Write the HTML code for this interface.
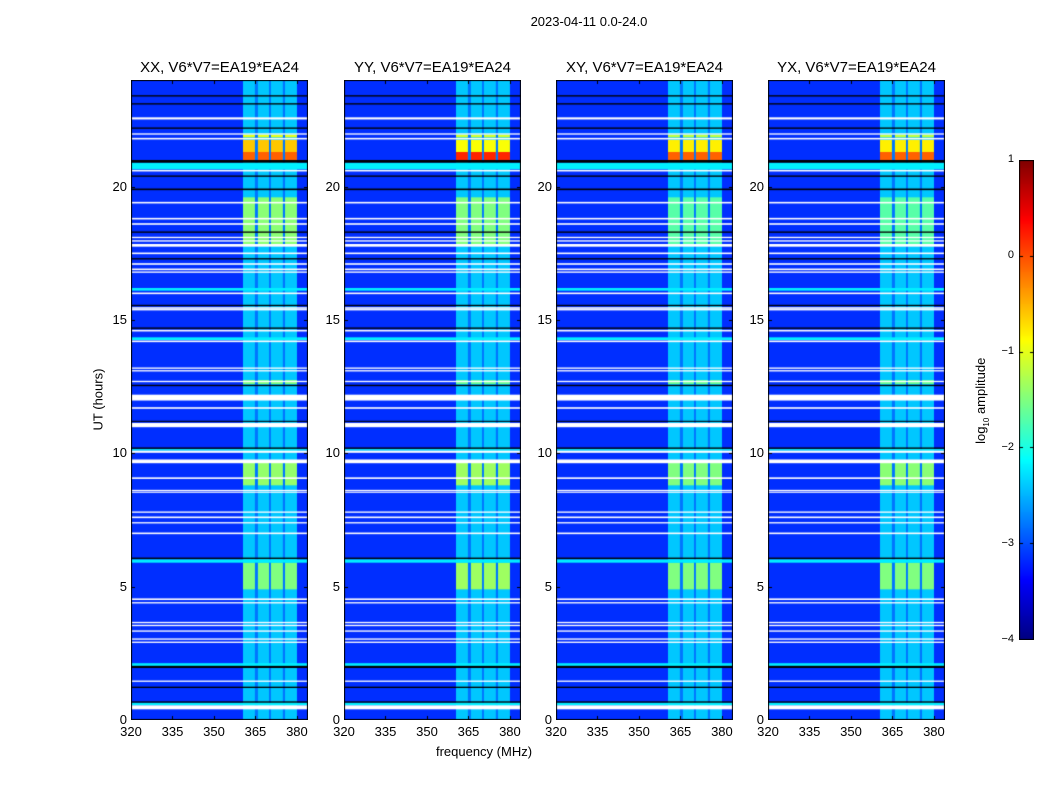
<!DOCTYPE html>
<html><head><meta charset="utf-8">
<style>
body{margin:0;background:#fff;font-family:"Liberation Sans",sans-serif;}
#root{position:relative;width:1050px;height:800px;overflow:hidden;background:#fff;}
.t{position:absolute;color:#000;white-space:nowrap;}
canvas{position:absolute;}
</style></head>
<body>
<div id="root">
<div class="t" style="left:489px;top:14px;width:200px;text-align:center;font-size:13px;">2023-04-11 0.0-24.0</div>
<div class="t" style="left:384px;top:744px;width:200px;text-align:center;font-size:13px;">frequency (MHz)</div>
<div class="t" style="left:48px;top:392px;width:100px;text-align:center;font-size:13px;transform:rotate(-90deg);">UT (hours)</div>
<div class="t" style="left:922px;top:392px;width:120px;text-align:center;font-size:13px;transform:rotate(-90deg);">log<sub style="font-size:8px">10</sub> amplitude</div>
</div>
<script>
// ---- data ----
const panelNames = ["XX","YY","XY","YX"];
const panelLeft = [131,344,556,768];
const freqTicks = [320,335,350,365,380];
const timeTicks = [0,5,10,15,20];
const cbTicks = [1,0,-1,-2,-3,-4];
const bandCols = [[360.5,364.8],[365.9,369.9],[370.6,374.9],[375.7,380.0]];
const bandLevelDefault = -2.4;
const bgLevel = -3.15;
const gapLevel = -2.8;
const whiteGaps = [[22.52,22.6],[21.95,22.0],[21.77,21.83],[20.57,20.63],[19.37,19.43],[18.77,18.83],[18.57,18.63],[18.07,18.12],[17.94,17.99],[17.75,17.85],[17.47,17.53],[17.07,17.13],[16.87,16.93],[16.77,16.82],[15.97,16.03],[15.42,15.48],[15.36,15.41],[14.57,14.63],[14.17,14.23],[13.17,13.22],[13.07,13.12],[12.67,12.72],[11.98,12.2],[11.67,11.73],[10.98,11.14],[10.02,10.1],[9.63,9.77],[9.04,9.1],[8.58,8.63],[8.52,8.56],[7.77,7.82],[7.57,7.63],[7.37,7.42],[6.97,7.03],[4.5,4.56],[4.37,4.42],[3.63,3.68],[3.52,3.57],[3.31,3.36],[3.01,3.06],[2.89,2.94],[1.43,1.48],[0.4,0.55]];
const blackLines = [[23.38,23.43],[23.08,23.13],[22.17,22.22],[20.9,21.0],[20.37,20.42],[19.87,19.93],[18.27,18.32],[17.27,17.32],[15.52,15.57],[14.67,14.72],[12.52,12.57],[11.18,11.22],[10.17,10.22],[6.04,6.09],[1.95,2.03],[1.2,1.25],[0.65,0.7]];
const cyanBands = [[20.65,20.9],[16.1,16.2],[14.25,14.35],[10.1,10.16],[5.9,6.02],[2.03,2.13],[0.55,0.65]];
const cyanLevel = -2.2;
// activity intervals [start,end] and per-panel level
const actIntervals = [[21.0,21.3],[21.3,21.75],[21.85,21.95],[17.8,19.6],[12.6,12.75],[8.8,9.7],[4.9,5.9]];
const actLevels = [
  [-0.1,-0.6,-1.0,-1.45,-1.5,-1.4,-1.5],
  [0.2,-0.9,-1.1,-1.5,-1.6,-1.35,-1.35],
  [-0.1,-0.8,-1.2,-1.7,-1.6,-1.5,-1.5],
  [-0.1,-0.8,-1.2,-1.7,-1.6,-1.45,-1.5]
];
// ---- geometry ----
const pTop=80,pH=640,pW=177,fMin=320,fMax=384,tMax=24;
const cbX=1019,cbY=160,cbW=15,cbH=480,vMin=-4,vMax=1;
const xs=f=>(f-fMin)/(fMax-fMin)*pW;
const ys=t=>pH-t/tMax*pH;
function jet(v){
  const t=Math.max(0,Math.min(1,(v-vMin)/(vMax-vMin)));
  const c=x=>Math.round(255*Math.max(0,Math.min(1,1.5-Math.abs(4*t-x))));
  return `rgb(${c(3)},${c(2)},${c(1)})`;
}
const root=document.getElementById('root');
function txt(name,s,x,y,w,align,size){
  const d=document.createElement('div');d.className='t';
  
  
  d.textContent=s;d.style.fontSize=size+'px';d.style.top=y+'px';
  d.style.width=w+'px';d.style.left=(align==='c'?x-w/2:(align==='r'?x-w:x))+'px';
  d.style.textAlign=align==='c'?'center':(align==='r'?'right':'left');
  root.appendChild(d);
}
function band(ctx,t0,t1,x0,x1,col){
  const y0=ys(t1),y1=ys(t0);
  ctx.fillStyle=col;ctx.fillRect(x0,y0,x1-x0,Math.max(1,y1-y0));
}
panelNames.forEach((nm,p)=>{
  const cv=document.createElement('canvas');
  cv.width=pW;cv.height=pH;cv.style.left=panelLeft[p]+'px';cv.style.top=pTop+'px';
  
  
  root.appendChild(cv);
  const ctx=cv.getContext('2d');
  ctx.fillStyle=jet(bgLevel);ctx.fillRect(0,0,pW,pH);
  const bx0=xs(bandCols[0][0]),bx1=xs(bandCols[bandCols.length-1][1]);
  band(ctx,0,tMax,bx0,bx1,jet(gapLevel));
  bandCols.forEach(b=>band(ctx,0,tMax,xs(b[0]),xs(b[1]),jet(bandLevelDefault)));
  actIntervals.forEach((iv,i)=>{
    bandCols.forEach(b=>band(ctx,iv[0],iv[1],xs(b[0]),xs(b[1]),jet(actLevels[p][i])));
  });
  cyanBands.forEach(c=>band(ctx,c[0],c[1],0,pW,jet(cyanLevel)));
  whiteGaps.forEach(g=>band(ctx,g[0],g[1],0,pW,'#ffffff'));
  blackLines.forEach(g=>band(ctx,g[0],g[1],0,pW,'#000000'));
  ctx.strokeStyle='#000';ctx.lineWidth=1;ctx.strokeRect(0.5,0.5,pW-1,pH-1);
  ctx.beginPath();
  freqTicks.forEach(f=>{const x=Math.round(xs(f))+0.5;ctx.moveTo(x,pH);ctx.lineTo(x,pH-4);ctx.moveTo(x,0);ctx.lineTo(x,4);});
  timeTicks.forEach(t=>{const y=Math.round(ys(t))+0.5;ctx.moveTo(0,y);ctx.lineTo(4,y);ctx.moveTo(pW,y);ctx.lineTo(pW-4,y);});
  ctx.stroke();
  txt('panel-title-'+nm.toLowerCase(),nm+', V6*V7=EA19*EA24',panelLeft[p]+pW/2,59,220,'c',15);
  freqTicks.forEach(f=>txt('x-tick-label',String(f),panelLeft[p]+xs(f),724,40,'c',13));
  timeTicks.forEach(t=>txt('y-tick-label',String(t),panelLeft[p]-4,pTop+ys(t)-8,30,'r',13));
});
// colorbar
const cb=document.createElement('canvas');cb.width=cbW;cb.height=cbH;
cb.style.left=cbX+'px';cb.style.top=cbY+'px';


root.appendChild(cb);
const cctx=cb.getContext('2d');
for(let i=0;i<cbH;i++){cctx.fillStyle=jet(vMax-(i+0.5)/cbH*(vMax-vMin));cctx.fillRect(0,i,cbW,1);}
cctx.strokeStyle='#000';cctx.strokeRect(0.5,0.5,cbW-1,cbH-1);
cctx.beginPath();
cbTicks.forEach(v=>{const y=Math.round((vMax-v)/(vMax-vMin)*(cbH-1))+0.5;cctx.moveTo(0,y);cctx.lineTo(4,y);cctx.moveTo(cbW,y);cctx.lineTo(cbW-4,y);});
cctx.stroke();
cbTicks.forEach(v=>txt('colorbar-tick-label',(v<0?'\u2212':'')+Math.abs(v),cbX-5,cbY+(vMax-v)/(vMax-vMin)*cbH-7,30,'r',11));
</script>
</body></html>
